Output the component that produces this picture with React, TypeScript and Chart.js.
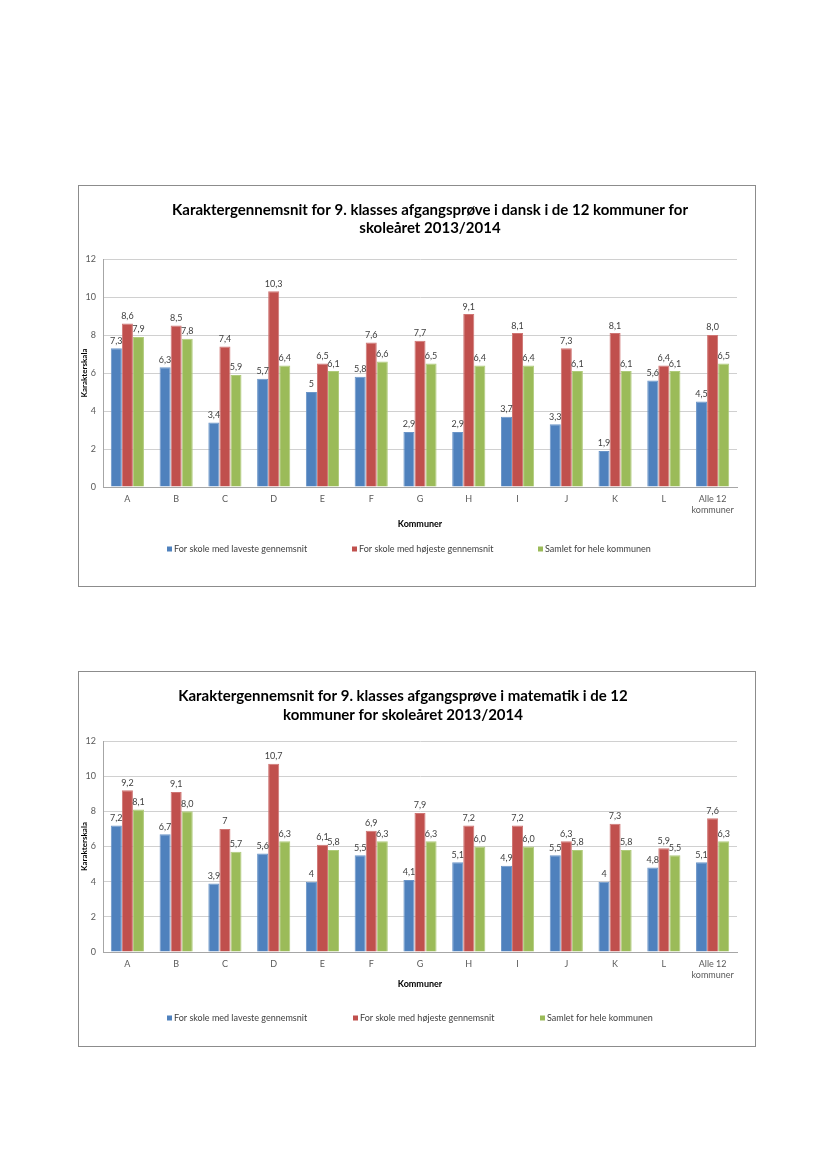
import React, { useEffect, useRef } from 'react';
import { Chart, registerables } from 'chart.js';

Chart.register(...registerables);

const FONT = 'Lato, "Liberation Sans", sans-serif';

const categories: (string | string[])[] = ['A', 'B', 'C', 'D', 'E', 'F', 'G', 'H', 'I', 'J', 'K', 'L', ['Alle 12', 'kommuner']];
const seriesNames = ['For skole med laveste gennemsnit', 'For skole med højeste gennemsnit', 'Samlet for hele kommunen'];
const seriesColors = ['#4F81BD', '#C0504D', '#9BBB59'];
const seriesBorders = ['#6B95C8', '#CF7674', '#B0CB7C'];
const yMin = 0;
const yMax = 12;
const yStep = 2;

// Dansk
const danskLow = ['7,3', '6,3', '3,4', '5,7', '5', '5,8', '2,9', '2,9', '3,7', '3,3', '1,9', '5,6', '4,5'];
const danskHigh = ['8,6', '8,5', '7,4', '10,3', '6,5', '7,6', '7,7', '9,1', '8,1', '7,3', '8,1', '6,4', '8,0'];
const danskAll = ['7,9', '7,8', '5,9', '6,4', '6,1', '6,6', '6,5', '6,4', '6,4', '6,1', '6,1', '6,1', '6,5'];

// Matematik
const matLow = ['7,2', '6,7', '3,9', '5,6', '4', '5,5', '4,1', '5,1', '4,9', '5,5', '4', '4,8', '5,1'];
const matHigh = ['9,2', '9,1', '7', '10,7', '6,1', '6,9', '7,9', '7,2', '7,2', '6,3', '7,3', '5,9', '7,6'];
const matAll = ['8,1', '8,0', '5,7', '6,3', '5,8', '6,3', '6,3', '6,0', '6,0', '5,8', '5,8', '5,5', '6,3'];

const danskTitle = ['Karaktergennemsnit for 9. klasses afgangsprøve i dansk i de 12 kommuner for', 'skoleåret 2013/2014'];
const matTitle = ['Karaktergennemsnit for 9. klasses afgangsprøve i matematik i de 12', 'kommuner for skoleåret 2013/2014'];
const xAxisTitle = 'Kommuner';
const yAxisTitle = 'Karakterskala';

const toNum = (s: string) => parseFloat(s.replace(',', '.'));

type Cfg = {
  box: { left: number; top: number; width: number; height: number };
  pad: { top: number; right: number; left: number };
  yWidth: number;
  xHeight: number;
  title: string[];
  titleX: number;
  titleY: number[];
  legendY: number;
  legendX: number[];
  xTitleY: number;
  yTitleX: number;
  series: string[][];
};

function BarChart({ cfg }: { cfg: Cfg }) {
  const ref = useRef<HTMLCanvasElement>(null);
  useEffect(() => {
    const canvas = ref.current!;
    const overlay = {
      id: 'overlay',
      afterDatasetsDraw(chart: any) {
        const ctx = chart.ctx;
        ctx.save();
        ctx.font = `9px ${FONT}`;
        ctx.fillStyle = '#404040';
        ctx.textAlign = 'center';
        ctx.textBaseline = 'bottom';
        chart.data.datasets.forEach((_ds: any, i: number) => {
          const meta = chart.getDatasetMeta(i);
          meta.data.forEach((el: any, j: number) => {
            ctx.fillText(cfg.series[i][j], el.x, el.y - 3);
          });
        });
        ctx.restore();
      },
      afterDraw(chart: any) {
        const ctx = chart.ctx;
        const area = chart.chartArea;
        ctx.save();
        // title
        ctx.font = `bold 15px ${FONT}`;
        ctx.fillStyle = '#000000';
        ctx.textAlign = 'center';
        ctx.textBaseline = 'middle';
        cfg.title.forEach((t, i) => ctx.fillText(t, cfg.titleX, cfg.titleY[i]));
        // x title
        ctx.font = `bold 9px ${FONT}`;
        ctx.fillText(xAxisTitle, (area.left + area.right) / 2, cfg.xTitleY);
        // y title
        ctx.save();
        ctx.translate(cfg.yTitleX, (area.top + area.bottom) / 2);
        ctx.rotate(-Math.PI / 2);
        ctx.font = `bold 8px ${FONT}`;
        ctx.fillText(yAxisTitle, 0, 0);
        ctx.restore();
        // legend
        ctx.font = `9px ${FONT}`;
        ctx.textAlign = 'left';
        seriesNames.forEach((n, i) => {
          const x = cfg.legendX[i];
          ctx.fillStyle = seriesColors[i];
          ctx.fillRect(x, cfg.legendY - 2.5, 5, 5);
          ctx.fillStyle = '#404040';
          ctx.fillText(n, x + 7, cfg.legendY);
        });
        ctx.restore();
      },
    };
    const chart = new Chart(canvas, {
      type: 'bar',
      data: {
        labels: categories as any,
        datasets: cfg.series.map((s, i) => ({
          label: seriesNames[i],
          data: s.map(toNum),
          backgroundColor: seriesColors[i],
          borderColor: seriesBorders[i],
          borderWidth: 1,
          categoryPercentage: 0.68,
          barPercentage: 1.0,
        })),
      },
      options: {
        animation: false,
        responsive: false,
        maintainAspectRatio: false,
        layout: { padding: { top: cfg.pad.top, right: cfg.pad.right, left: cfg.pad.left, bottom: 0 } },
        plugins: {
          legend: { display: false },
          title: { display: false },
          tooltip: { enabled: false },
        },
        scales: {
          x: {
            grid: { display: false, drawTicks: false },
            border: { display: true, color: '#A6A6A6' },
            ticks: { color: '#595959', font: { family: FONT, size: 9 }, padding: 7, maxRotation: 0, autoSkip: false },
            afterFit: (s: any) => { s.height = cfg.xHeight; },
          },
          y: {
            min: yMin,
            max: yMax,
            grid: { color: '#D0D0D0', drawTicks: false },
            border: { display: true, color: '#A6A6A6' },
            ticks: { stepSize: yStep, color: '#595959', font: { family: FONT, size: 9 }, padding: 7 },
            afterFit: (s: any) => { s.width = cfg.yWidth; },
          },
        },
      },
      plugins: [overlay],
    } as any);
    return () => chart.destroy();
  }, [cfg]);
  const b = cfg.box;
  return (
    <div style={{ position: 'absolute', left: b.left, top: b.top, width: b.width, height: b.height, border: '1px solid #8C8C8C', boxSizing: 'border-box', background: '#fff' }}>
      <canvas ref={ref} width={b.width - 2} height={b.height - 2} style={{ display: 'block' }} />
    </div>
  );
}

const cfg1: Cfg = {
  box: { left: 78, top: 185, width: 678, height: 402 },
  pad: { top: 73, right: 18, left: 4 },
  yWidth: 20,
  xHeight: 99,
  title: danskTitle,
  titleX: 351,
  titleY: [24, 42],
  legendY: 363,
  legendX: [88, 273, 459],
  xTitleY: 338,
  yTitleX: 5,
  series: [danskLow, danskHigh, danskAll],
};

const cfg2: Cfg = {
  box: { left: 78, top: 671, width: 678, height: 376 },
  pad: { top: 69, right: 18, left: 4 },
  yWidth: 20,
  xHeight: 94,
  title: matTitle,
  titleX: 324,
  titleY: [24, 43],
  legendY: 346,
  legendX: [88, 274, 461],
  xTitleY: 312,
  yTitleX: 5,
  series: [matLow, matHigh, matAll],
};

export default function App() {
  return (
    <div style={{ position: 'absolute', left: 0, top: 0, width: 827, height: 1169, background: '#fff' }}>
      <BarChart cfg={cfg1} />
      <BarChart cfg={cfg2} />
    </div>
  );
}
